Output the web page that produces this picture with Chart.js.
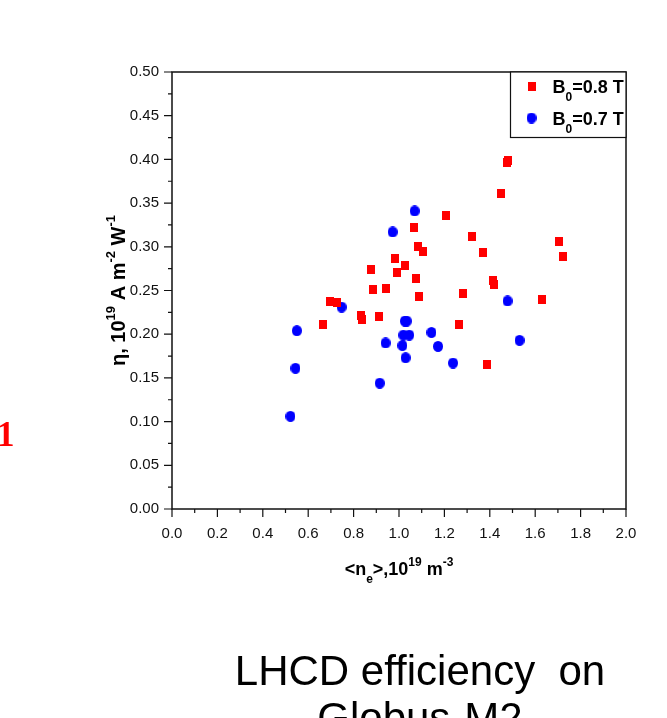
<!DOCTYPE html>
<html>
<head>
<meta charset="utf-8">
<script src="https://cdn.jsdelivr.net/npm/chart.js@4.4.0/dist/chart.umd.min.js"></script>
<style>
  html, body { margin: 0; padding: 0; background: #fff; }
  #wrap { position: relative; width: 667px; height: 718px; overflow: hidden; }
  #panel { position: absolute; left: -3px; top: 417px; font: bold 35px "Liberation Serif", serif; line-height: 35px; color: #f00; }
  #caption { position: absolute; left: 150px; width: 540px; top: 647px; text-align: center;
             font: 42px "Liberation Sans", Arial, sans-serif; line-height: 47px; color: #000; white-space: nowrap; }
</style>
</head>
<body>
<div id="wrap">
  <canvas id="chart" width="667" height="718"></canvas>
  <div id="panel">1</div>
  <div id="caption">LHCD efficiency&nbsp; on<br>Globus-M2</div>
</div>
<script>
// B0 = 0.8 T shots
const red08x = [0.666, 0.696, 0.725, 0.834, 0.837, 0.875, 0.887, 0.910, 0.943, 0.981, 0.990, 1.025, 1.065, 1.076, 1.083, 1.090,
                1.106, 1.207, 1.265, 1.281, 1.321, 1.371, 1.388, 1.413, 1.419, 1.450, 1.475, 1.482, 1.632, 1.704, 1.723];
const red08y = [0.211, 0.237, 0.236, 0.221, 0.217, 0.274, 0.251, 0.220, 0.252, 0.287, 0.271, 0.279, 0.322, 0.264, 0.300, 0.243,
                0.295, 0.336, 0.211, 0.247, 0.312, 0.293, 0.165, 0.262, 0.257, 0.361, 0.397, 0.399, 0.240, 0.306, 0.289];

// B0 = 0.7 T shots
const blue07x = [0.522, 0.544, 0.550, 0.747, 0.915, 0.941, 0.972, 1.015, 1.019, 1.026, 1.034, 1.029, 1.045, 1.069, 1.143, 1.172, 1.238, 1.478, 1.531];
const blue07y = [0.106, 0.161, 0.204, 0.231, 0.144, 0.190, 0.317, 0.187, 0.199, 0.215, 0.215, 0.173, 0.199, 0.341, 0.202, 0.186, 0.167, 0.238, 0.193];

const seriesNames = ['B_{0}=0.8 T', 'B_{0}=0.7 T'];

const xTickValues = [0, 0.2, 0.4, 0.6, 0.8, 1.0, 1.2, 1.4, 1.6, 1.8, 2.0];
const xTickLabels = ['0.0', '0.2', '0.4', '0.6', '0.8', '1.0', '1.2', '1.4', '1.6', '1.8', '2.0'];
const yTickValues = [0, 0.05, 0.10, 0.15, 0.20, 0.25, 0.30, 0.35, 0.40, 0.45, 0.50];
const yTickLabels = ['0.00', '0.05', '0.10', '0.15', '0.20', '0.25', '0.30', '0.35', '0.40', '0.45', '0.50'];

const xTitle = '<n_{e}>,10^{19} m^{-3}';
const yTitle = '\u03B7, 10^{19} A m^{-2} W^{-1}';

// small bitmap markers, slightly taller than wide like the original export
const makeMarker = function (w, h, color, round) {
    const c = document.createElement('canvas');
    c.width = w; c.height = h;
    const g = c.getContext('2d');
    g.fillStyle = color;
    if (round) {
        g.beginPath();
        g.ellipse(w / 2, h / 2, w / 2, h / 2, 0, 0, Math.PI * 2);
        g.fill();
    } else {
        g.fillRect(0, 0, w, h);
    }
    return c;
};
const redMarker = makeMarker(8, 9, '#ff0000', false);
const blueMarker = makeMarker(10, 11, '#0000ff', true);

// text with _{sub} and ^{sup} parts
const drawRich = function (ctx, str, x, y, size, align) {
    const parts = [];
    const re = /([_^])\{([^}]*)\}/g;
    let last = 0, m;
    while ((m = re.exec(str)) !== null) {
        if (m.index > last) parts.push({ t: str.slice(last, m.index), k: '' });
        parts.push({ t: m[2], k: m[1] });
        last = re.lastIndex;
    }
    if (last < str.length) parts.push({ t: str.slice(last), k: '' });
    const fontFor = k => 'bold ' + (k ? Math.round(size * 0.65) : size) + 'px "Liberation Sans", Arial, sans-serif';
    let total = 0;
    parts.forEach(p => { ctx.font = fontFor(p.k); p.w = ctx.measureText(p.t).width; total += p.w; });
    let cx = align === 'center' ? x - total / 2 : x;
    ctx.textAlign = 'left';
    ctx.textBaseline = 'alphabetic';
    parts.forEach(p => {
        ctx.font = fontFor(p.k);
        const dy = p.k === '_' ? size * 0.45 : (p.k === '^' ? -size * 0.5 : 0);
        ctx.fillText(p.t, cx, y + dy);
        cx += p.w;
    });
};

const framePlugin = {
    id: 'frame',
    afterDatasetsDraw(chart) {
        const ctx = chart.ctx;
        const a = chart.chartArea;
        const xs = chart.scales.x, ys = chart.scales.y;
        ctx.save();
        ctx.strokeStyle = '#111';
        ctx.lineWidth = 1.5;
        ctx.strokeRect(a.left, a.top, a.right - a.left, a.bottom - a.top);

        // major + minor ticks, outward
        ctx.lineWidth = 1.2;
        ctx.beginPath();
        for (let i = 0; i <= 20; i++) {
            const px = xs.getPixelForValue(i * 0.1);
            ctx.moveTo(px, a.bottom);
            ctx.lineTo(px, a.bottom + (i % 2 === 0 ? 8 : 4));
        }
        for (let i = 0; i <= 20; i++) {
            const py = ys.getPixelForValue(i * 0.025);
            ctx.moveTo(a.left, py);
            ctx.lineTo(a.left - (i % 2 === 0 ? 8 : 4), py);
        }
        ctx.stroke();

        // axis titles
        ctx.fillStyle = '#000';
        drawRich(ctx, xTitle, (a.left + a.right) / 2, 575, 18, 'center');
        ctx.save();
        ctx.translate(125, (a.top + a.bottom) / 2);
        ctx.rotate(-Math.PI / 2);
        drawRich(ctx, yTitle, 0, 0, 20, 'center');
        ctx.restore();

        // legend box in the top right corner
        const lx = 510.5, ly = a.top, lw = a.right - 510.5, lh = 65.5;
        ctx.fillStyle = '#fff';
        ctx.fillRect(lx, ly, lw, lh);
        ctx.strokeStyle = '#111';
        ctx.lineWidth = 1.2;
        ctx.strokeRect(lx, ly, lw, lh);
        chart.data.datasets.forEach((ds, i) => {
            const my = ly + 14 + i * 32;
            const img = ds.pointStyle;
            ctx.drawImage(img, 531.5 - img.width / 2, my - img.height / 2);
            ctx.fillStyle = '#000';
            drawRich(ctx, ds.label, 552.5, my + 6.5, 18, 'left');
        });
        ctx.restore();
    }
};

const ctx = document.getElementById('chart').getContext('2d');
const myChart = new Chart(ctx, {
    type: 'scatter',
    data: {
        datasets: [{
            label: seriesNames[0],
            data: red08x.map((x, i) => ({ x: x, y: red08y[i] })),
            pointStyle: redMarker,
            backgroundColor: '#ff0000',
            borderWidth: 0
        }, {
            label: seriesNames[1],
            data: blue07x.map((x, i) => ({ x: x, y: blue07y[i] })),
            pointStyle: blueMarker,
            backgroundColor: '#0000ff',
            borderWidth: 0
        }]
    },
    options: {
        responsive: false,
        animation: false,
        devicePixelRatio: 1,
        layout: { padding: { left: 0, top: 72, right: 41, bottom: 0 } },
        plugins: {
            legend: { display: false },
            tooltip: { enabled: false }
        },
        scales: {
            x: {
                type: 'linear',
                min: 0,
                max: 2,
                grid: { display: false, drawTicks: false },
                border: { display: false },
                afterBuildTicks: s => { s.ticks = xTickValues.map(v => ({ value: v })); },
                afterFit: s => { s.height = 718 - 509; },
                ticks: {
                    callback: (v, i) => xTickLabels[i],
                    font: { family: '"Liberation Sans", Arial, sans-serif', size: 15 },
                    color: '#111',
                    padding: 16,
                    maxRotation: 0,
                    autoSkip: false
                }
            },
            y: {
                type: 'linear',
                min: 0,
                max: 0.5,
                grid: { display: false, drawTicks: false },
                border: { display: false },
                afterBuildTicks: s => { s.ticks = yTickValues.map(v => ({ value: v })); },
                afterFit: s => { s.width = 172; },
                ticks: {
                    callback: (v, i) => yTickLabels[i],
                    font: { family: '"Liberation Sans", Arial, sans-serif', size: 15 },
                    color: '#111',
                    padding: 13,
                    autoSkip: false
                }
            }
        }
    },
    plugins: [framePlugin]
});
</script>
</body>
</html>
